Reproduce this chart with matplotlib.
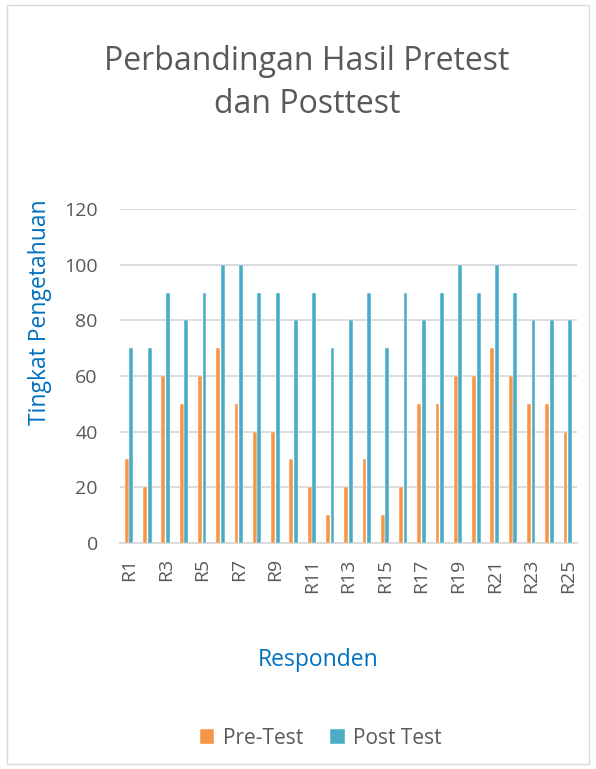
import matplotlib
matplotlib.use("Agg")
import matplotlib.pyplot as plt
import numpy as np
from matplotlib.patches import Rectangle

categories = [f"R{i}" for i in range(1, 26)]
pre_test = [30, 20, 60, 50, 60, 70, 50, 40, 40, 30, 20, 10, 20, 30, 10, 20, 50, 50, 60, 60, 70, 60, 50, 50, 40]
post_test = [70, 70, 90, 80, 90, 100, 100, 90, 90, 80, 90, 70, 80, 90, 70, 90, 80, 90, 100, 90, 100, 90, 80, 80, 80]
yticks = [0, 20, 40, 60, 80, 100, 120]

plt.rcParams['font.family'] = ['Open Sans', 'DejaVu Sans']

fig = plt.figure(figsize=(5.96, 7.69), dpi=100)
fig.patches.append(Rectangle((0.012, 0.006), 0.976, 0.988, transform=fig.transFigure,
                             fill=False, edgecolor='#D9D9D9', linewidth=1.0))
ax = fig.add_axes([0.2013, 0.2939, 0.7667, 0.4343])

x = np.arange(len(categories))
w = 0.21
ax.bar(x - 0.125, pre_test, width=w, color='#F79646', edgecolor='white', linewidth=0.3, label='Pre-Test', zorder=3)
ax.bar(x + 0.125, post_test, width=w, color='#4BACC6', edgecolor='white', linewidth=0.3, label='Post Test', zorder=3)

ax.set_xlim(-0.5, len(categories) - 0.5)
ax.set_ylim(0, 120)
ax.set_yticks(yticks)
ax.set_yticklabels([str(v) for v in yticks], fontsize=14, color='#595959')
ax.set_xticks(x[::2])
ax.set_xticklabels(categories[::2], rotation=90, fontsize=14, color='#595959')
ax.tick_params(axis='both', length=0)
ax.tick_params(axis='x', pad=11)
ax.tick_params(axis='y', pad=16)
ax.grid(axis='y', color='#D9D9D9', linewidth=1.3, zorder=0)
for s in ['top', 'right', 'left']:
    ax.spines[s].set_visible(False)
ax.spines['bottom'].set_color('#D9D9D9')
ax.spines['bottom'].set_linewidth(1.3)

ax.set_ylabel('Tingkat Pengetahuan', fontsize=16.5, color='#0070C0')
ax.yaxis.set_label_coords(-0.149, 0.69)
ax.set_xlabel('Responden', fontsize=16.5, color='#0070C0')
ax.xaxis.set_label_coords(0.433, -0.313)

fig.text(0.515, 0.892, 'Perbandingan Hasil Pretest\ndan Posttest', ha='center', va='center',
         fontsize=23, color='#595959', linespacing=1.38)

fig.legend(loc='center', bbox_to_anchor=(0.538, 0.04), ncol=2, frameon=False,
           fontsize=15, handlelength=0.7, handleheight=0.7, columnspacing=1.3,
           handletextpad=0.4, labelcolor='#595959')

fig.savefig('out.png', dpi=100)
